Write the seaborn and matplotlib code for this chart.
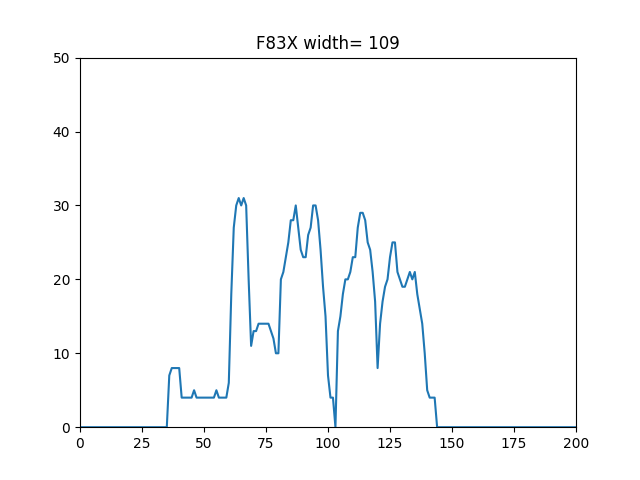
import matplotlib
matplotlib.use("Agg")
import matplotlib.pyplot as plt
import seaborn as sns
import numpy as np

title = "F83X width= 109"
start = 36
values = [7,8,8,8,8,4,4,4,4,4,5,4,4,4,4,4,4,4,4,5,4,4,4,4,6,18,27,30,31,30,31,30,20,11,13,13,14,14,14,14,14,13,12,10,10,
          20,21,23,25,28,28,30,27,24,23,23,26,27,30,30,28,24,19,15,7,4,4,0,13,15,18,20,20,21,23,23,27,29,29,28,25,24,21,17,8,
          14,17,19,20,23,25,25,21,20,19,19,20,21,20,21,18,16,14,10,5,4,4,4]
y = np.zeros(201)
y[start:start+len(values)] = values
x = np.arange(201)

fig, ax = plt.subplots(figsize=(6.4, 4.8), dpi=100)
sns.lineplot(x=x, y=y, ax=ax, color="#1f77b4", linewidth=1.5)
ax.set_xlim(0, 200)
ax.set_ylim(0, 50)
ax.set_title(title)
fig.savefig("out.png")
